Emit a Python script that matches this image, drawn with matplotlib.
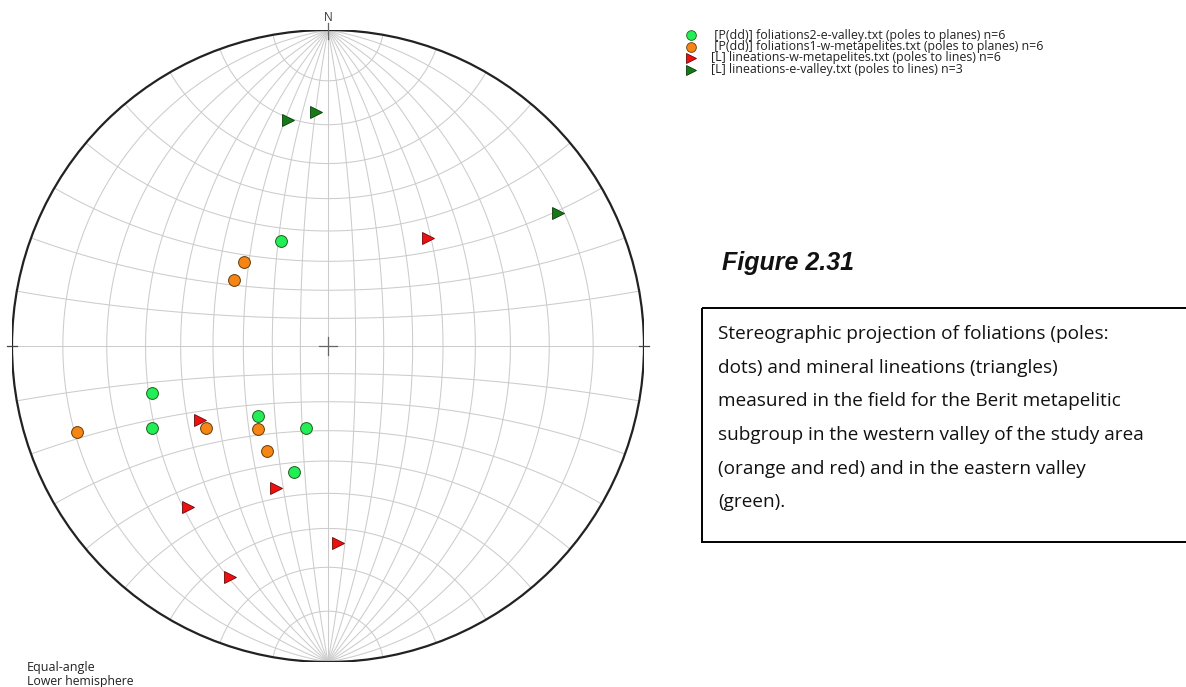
import numpy as np
import matplotlib.pyplot as plt
from matplotlib.patches import Circle, Rectangle

# Poles to foliation planes: dip direction / dip (degrees)
fol_e_dipdir = [156, 75, 65, 45, 15, 15]
fol_e_dip = [40, 60, 63, 35, 30, 45]
fol_w_dipdir = [135, 125, 71, 56, 40, 30]
fol_w_dip = [41, 40, 80, 50, 38, 42]

# Mineral lineations: trend / plunge (degrees)
lin_w_trend = [43, 240, 200, 221, 177, 203]
lin_w_plunge = [40, 40, 39, 22, 26, 13]
lin_e_trend = [350, 357, 60]
lin_e_plunge = [18, 17, 10]

legend_labels = [
    " [P(dd)] foliations2-e-valley.txt (poles to planes) n=6",
    " [P(dd)] foliations1-w-metapelites.txt (poles to planes) n=6",
    "[L] lineations-w-metapelites.txt (poles to lines) n=6",
    "[L] lineations-e-valley.txt (poles to lines) n=3",
]

caption = ("Stereographic projection of foliations (poles:\n"
           "dots) and mineral lineations (triangles)\n"
           "measured in the field for the Berit metapelitic\n"
           "subgroup in the western valley of the study area\n"
           "(orange and red) and in the eastern valley\n"
           "(green).")

GRID = "#cccccc"
C_GREEN = "#22ee55"
C_ORANGE = "#f58514"
C_RED = "#ee1010"
C_DKGREEN = "#157a15"


def line_xy(trend, plunge):
    t = np.radians(np.asarray(trend, dtype=float))
    p = np.radians(np.asarray(plunge, dtype=float))
    r = np.tan(np.pi / 4 - p / 2)
    return r * np.sin(t), r * np.cos(t)


def pole_xy(dipdir, dip):
    return line_xy(np.asarray(dipdir) + 180, 90 - np.asarray(dip))


def project(e, n, u):
    return e / (1 - u), n / (1 - u)


W, H = 1186, 687
fig = plt.figure(figsize=(W / 100, H / 100), dpi=100)

cx, cy, R = 328, 346, 316
ax = fig.add_axes([(cx - R) / W, (H - cy - R) / H, 2 * R / W, 2 * R / H])
ax.set_xlim(-1, 1)
ax.set_ylim(-1, 1)
ax.set_aspect("equal")
ax.axis("off")

# Wulff net: meridians through N and S
th = np.linspace(0, np.pi, 400)
for d in range(10, 91, 10):
    for s in (1, -1):
        dr = np.radians(d)
        e = np.sin(th) * np.cos(dr) * s
        n = np.cos(th)
        u = -np.sin(th) * np.sin(dr)
        x, y = project(e, n, u)
        ax.plot(x, y, color=GRID, lw=0.75, zorder=1)

# small circles about the N-S axis
ph = np.linspace(np.pi, 2 * np.pi, 400)
for a in range(10, 171, 10):
    ar = np.radians(a)
    e = np.sin(ar) * np.cos(ph)
    n = np.full_like(ph, np.cos(ar))
    u = np.sin(ar) * np.sin(ph)
    x, y = project(e, n, u)
    ax.plot(x, y, color=GRID, lw=0.75, zorder=1)

ax.add_patch(Circle((0, 0), 1, fill=False, ec="#222222", lw=1.6, zorder=2))

# centre cross and cardinal ticks
k = 9 / R
ax.plot([-k, k], [0, 0], color="#666666", lw=0.9, zorder=2)
ax.plot([0, 0], [-k, k], color="#666666", lw=0.9, zorder=2)
ax.plot([0, 0], [1 - k, 1 + 0.8 * k], color="#666666", lw=0.9, zorder=2, clip_on=False)
ax.plot([-1 - 0.6 * k, -1 + 0.6 * k], [0, 0], color="#444444", lw=0.9, zorder=2, clip_on=False)
ax.plot([1 - 0.6 * k, 1 + 0.6 * k], [0, 0], color="#444444", lw=0.9, zorder=2, clip_on=False)
ax.text(0, 1.041, "N", ha="center", va="center", fontsize=8.5, color="#333333",
        family="Open Sans")

ms = 8.5
x, y = pole_xy(fol_e_dipdir, fol_e_dip)
ax.plot(x, y, "o", ms=ms, mfc=C_GREEN, mec="#1f5f1f", mew=0.7, ls="none", zorder=3, clip_on=False)
x, y = pole_xy(fol_w_dipdir, fol_w_dip)
ax.plot(x, y, "o", ms=ms, mfc=C_ORANGE, mec="#6a3a06", mew=0.7, ls="none", zorder=3, clip_on=False)
x, y = line_xy(lin_w_trend, lin_w_plunge)
ax.plot(x, y, ">", ms=ms, mfc=C_RED, mec="#6a0808", mew=0.6, ls="none", zorder=3, clip_on=False)
x, y = line_xy(lin_e_trend, lin_e_plunge)
ax.plot(x, y, ">", ms=ms, mfc=C_DKGREEN, mec="#0a3a0a", mew=0.6, ls="none", zorder=3, clip_on=False)

# overlay in pixel units for legend, notes and caption
ov = fig.add_axes([0, 0, 1, 1])
ov.set_xlim(0, W)
ov.set_ylim(H, 0)
ov.axis("off")
ov.patch.set_alpha(0)

leg_style = [
    ("o", C_GREEN, "#1f5f1f"),
    ("o", C_ORANGE, "#6a3a06"),
    (">", C_RED, "#6a0808"),
    (">", C_DKGREEN, "#0a3a0a"),
]
leg_y = [35, 46.5, 58, 69.5]
for (mk, fc, ec), yy, lab in zip(leg_style, leg_y, legend_labels):
    ov.plot([691], [yy], mk, ms=7, mfc=fc, mec=ec, mew=0.6)
    ov.text(711, yy, lab, ha="left", va="center", fontsize=8.9, family="Open Sans",
            color="#222222")

ov.text(27, 668, "Equal-angle", ha="left", va="center", fontsize=9,
        family="Open Sans", color="#222222")
ov.text(27, 682, "Lower hemisphere", ha="left", va="center", fontsize=8.8,
        family="Open Sans", color="#222222")

ov.text(722, 263, "Figure 2.31", ha="left", va="center", fontsize=18,
        family="Liberation Sans", weight="bold", style="italic", color="#111111")

ov.add_patch(Rectangle((702, 308), 520, 234, fill=False, ec="black", lw=1.4, clip_on=False))
ov.text(718, 325, caption, ha="left", va="top", fontsize=13.7, family="Open Sans",
        linespacing=2.12, color="#111111")

fig.savefig("out.png", dpi=100)
